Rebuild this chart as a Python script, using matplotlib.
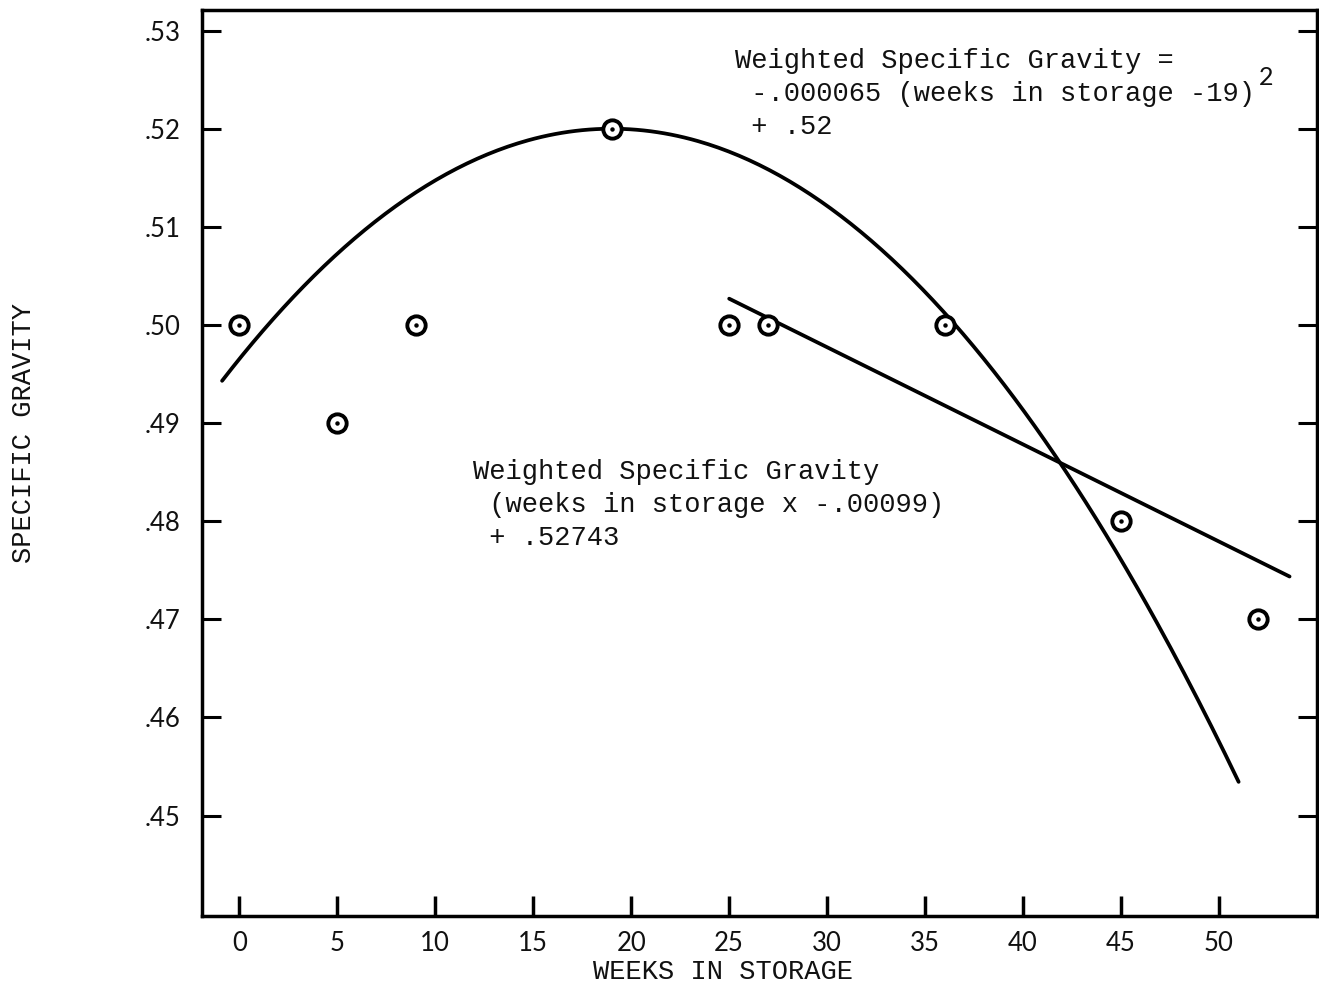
import numpy as np
import matplotlib
matplotlib.use("Agg")
import matplotlib.pyplot as plt

# ---------------- data ----------------
weeks = [0, 5, 9, 19, 25, 27, 36, 45, 52]
specific_gravity = [0.50, 0.49, 0.50, 0.52, 0.50, 0.50, 0.50, 0.48, 0.47]

x_ticks = [0, 5, 10, 15, 20, 25, 30, 35, 40, 45, 50]
x_tick_labels = ["0", "5", "10", "15", "20", "25", "30", "35", "40", "45", "50"]
y_ticks = [0.45, 0.46, 0.47, 0.48, 0.49, 0.50, 0.51, 0.52, 0.53]
y_tick_labels = [".45", ".46", ".47", ".48", ".49", ".50", ".51", ".52", ".53"]

# fitted curves, coefficients as printed on the chart
quad_coef = -0.000065
quad_center = 19
quad_peak = 0.52
quad_weeks = (-0.88, 51.0)

lin_slope = -0.00099
lin_intercept = 0.52743
lin_weeks = (25.0, 53.6)

eq1_lines = ["Weighted Specific Gravity =",
             " -.000065 (weeks in storage -19)",
             " + .52"]
eq1_sup = "2"
eq2_lines = ["Weighted Specific Gravity",
             " (weeks in storage x -.00099)",
             " + .52743"]
x_label = "WEEKS IN STORAGE"
y_label = "SPECIFIC GRAVITY"

# ---------------- figure ----------------
W, H = 1319, 985
fig = plt.figure(figsize=(W / 100, H / 100), dpi=100)
fig.patch.set_facecolor("white")

left, right, top, bottom = 202.3, 1317.0, 10.0, 915.7
ax = fig.add_axes([left / W, 1 - bottom / H, (right - left) / W, (bottom - top) / H])
ax.set_xlim(-1.89, 55.0)
ax.set_ylim(0.4398, 0.5321)

mono = "Liberation Mono"
tickfont = "Lato"

# curves
xq = np.linspace(quad_weeks[0], quad_weeks[1], 300)
ax.plot(xq, quad_coef * (xq - quad_center) ** 2 + quad_peak,
        color="black", lw=2.7, solid_capstyle="round", zorder=2)
xl = np.array(lin_weeks)
ax.plot(xl, lin_slope * xl + lin_intercept,
        color="black", lw=2.7, solid_capstyle="round", zorder=2)

# points
ax.plot(weeks, specific_gravity, "o", ms=13.2, mfc="white", mec="black",
        mew=2.8, zorder=3)
ax.plot(weeks, specific_gravity, "o", ms=2.2, color="black", zorder=4)

# spines & ticks
for s in ax.spines.values():
    s.set_linewidth(2.5)
    s.set_color("black")

ax.set_xticks(x_ticks)
ax.set_xticklabels(x_tick_labels, fontfamily=tickfont, fontsize=18.5, color="#111111")
ax.set_yticks(y_ticks)
ax.set_yticklabels(y_tick_labels, fontfamily=tickfont, fontsize=18.5, color="#111111")
ax.tick_params(axis="x", direction="in", length=14.5, width=2.5, pad=11,
               top=False, bottom=True)
ax.tick_params(axis="y", direction="in", length=13.5, width=2.2, pad=15.5,
               left=True, right=True)
ax.tick_params(axis="y", which="major", labelright=False)


def ftxt(px, py, s, **kw):
    fig.text(px / W, 1 - py / H, s, **kw)


tkw = dict(fontfamily=mono, fontsize=19.5, color="#111111", va="baseline", ha="left")
# equation 1 (quadratic)
for i, line in enumerate(eq1_lines):
    ftxt(735, 68 + i * 33, line, **tkw)
ftxt(1259, 85, eq1_sup, **dict(tkw, fontsize=18, fontfamily=tickfont))
# equation 2 (linear)
for i, line in enumerate(eq2_lines):
    ftxt(473, 479 + i * 33, line, **tkw)

# axis labels
ftxt(593, 979, x_label, **tkw)
ftxt(24, 433, y_label, fontfamily=mono, fontsize=19.5, color="#111111",
     rotation=90, ha="center", va="center")

fig.savefig("out.png", dpi=100, facecolor="white")
